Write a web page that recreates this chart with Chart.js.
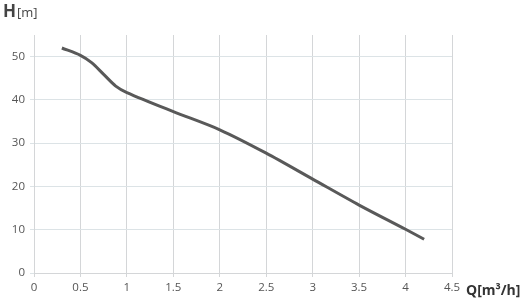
<!DOCTYPE html>
<html><head><meta charset="utf-8">
<script src="https://cdn.jsdelivr.net/npm/chart.js@4"></script>
<style>html,body{margin:0;padding:0;background:#fff;}#wrap{position:relative;width:520px;height:301px;}</style>
</head><body>
<div id="wrap"><canvas id="c" width="520" height="301"></canvas></div>
<script>
const flowQ = [0.3, 0.5, 0.62, 0.75, 0.88, 1.0, 1.5, 2.0, 2.5, 3.0, 3.5, 4.0, 4.2];
const headH = [52, 50.3, 48.6, 45.9, 43.2, 41.7, 37.3, 33.1, 27.7, 21.7, 15.7, 10.1, 7.8];
const xTicks = [0, 0.5, 1, 1.5, 2, 2.5, 3, 3.5, 4, 4.5];
const yTicks = [0, 10, 20, 30, 40, 50];
const yTitle = ['H', '[m]'];
const xTitle = 'Q[m³/h]';

const titles = {
  id: 'titles',
  afterDraw(chart) {
    const ctx = chart.ctx;
    ctx.save();
    ctx.fillStyle = '#444';
    ctx.textBaseline = 'alphabetic';
    ctx.textAlign = 'left';
    ctx.font = 'bold 17px "Open Sans", sans-serif';
    ctx.fillText(yTitle[0], 3, 17);
    const w = ctx.measureText(yTitle[0]).width;
    ctx.font = '13px "Open Sans", sans-serif';
    ctx.fillText(yTitle[1], 3 + w + 1, 17);
    ctx.font = 'bold 14px "Open Sans", sans-serif';
    ctx.fillStyle = '#333';
    ctx.fillText(xTitle, 466, 295);
    ctx.restore();
  }
};

new Chart(document.getElementById('c'), {
  type: 'line',
  data: {
    datasets: [{
      data: flowQ.map((q, i) => ({x: q, y: headH[i]})),
      borderColor: '#595959',
      borderWidth: 3,
      pointRadius: 0,
      tension: 0.3,
      fill: false
    }]
  },
  options: {
    responsive: false,
    animation: false,
    layout: {padding: {top: 35, right: 68, left: 0, bottom: 0}},
    plugins: {legend: {display: false}, tooltip: {enabled: false}},
    scales: {
      x: {
        type: 'linear', min: 0, max: 4.5,
        afterBuildTicks: s => { s.ticks = xTicks.map(v => ({value: v})); },
        afterFit: s => { s.height = 28; },
        grid: {color: '#d4d6d8', lineWidth: 1, tickLength: 4, drawTicks: true},
        border: {color: '#d4d6d8'},
        ticks: {color: '#555', padding: 4, maxRotation: 0, font: {family: '"Open Sans", sans-serif', size: 11.5}, callback: v => String(v)}
      },
      y: {
        type: 'linear', min: 0, max: 55,
        afterBuildTicks: s => { s.ticks = yTicks.map(v => ({value: v})); },
        afterFit: s => { s.width = 34; },
        grid: {color: '#dce3e6', lineWidth: 1, tickLength: 4},
        border: {color: '#d4d6d8'},
        ticks: {color: '#555', padding: 5, font: {family: '"Open Sans", sans-serif', size: 11.5}, callback: v => String(v)}
      }
    }
  },
  plugins: [titles]
});
</script>
</body></html>
